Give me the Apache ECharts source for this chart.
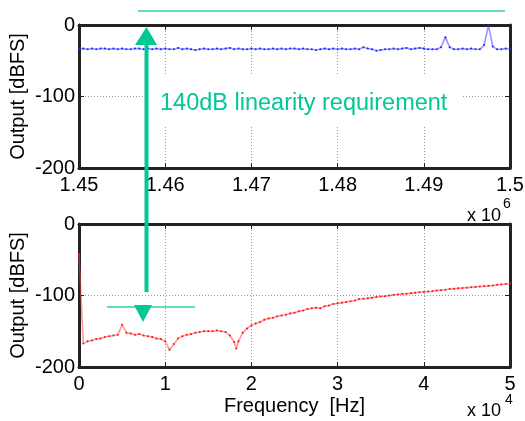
<!DOCTYPE html>
<html>
<head>
<meta charset="utf-8">
<script src="https://cdn.jsdelivr.net/npm/echarts@6/dist/echarts.min.js"></script>
<style>
  html, body { margin: 0; padding: 0; background: #fff; }
  #chart { width: 525px; height: 421px; }
</style>
</head>
<body>
<div id="chart"></div>
<script>
// High-frequency band spectrum (Hz vs dBFS), 500 Hz spacing from 1.45 MHz
const hfFreq = [
  1450000,1450500,1451000,1451500,1452000,1452500,1453000,1453500,1454000,1454500,
  1455000,1455500,1456000,1456500,1457000,1457500,1458000,1458500,1459000,1459500,
  1460000,1460500,1461000,1461500,1462000,1462500,1463000,1463500,1464000,1464500,
  1465000,1465500,1466000,1466500,1467000,1467500,1468000,1468500,1469000,1469500,
  1470000,1470500,1471000,1471500,1472000,1472500,1473000,1473500,1474000,1474500,
  1475000,1475500,1476000,1476500,1477000,1477500,1478000,1478500,1479000,1479500,
  1480000,1480500,1481000,1481500,1482000,1482500,1483000,1483500,1484000,1484500,
  1485000,1485500,1486000,1486500,1487000,1487500,1488000,1488500,1489000,1489500,
  1490000,1490500,1491000,1491500,1492000,1492500,1493000,1493500,1494000,1494500,
  1495000,1495500,1496000,1496500,1497000,1497500,1498000,1498500,1499000,1499500,
  1500000
];
const hfLevel = [
  -34,-33,-34,-33,-34,-33,-33,-34,-33,-34,
  -33,-34,-34,-33,-33,-34,-33,-34,-33,-34,
  -33,-34,-34,-32,-34,-33,-34,-35,-34,-33,
  -34,-34,-33,-34,-33,-32,-34,-33,-34,-34,
  -33,-34,-33,-34,-34,-33,-34,-33,-34,-33,
  -33,-34,-33,-34,-34,-35,-34,-33,-34,-33,
  -34,-33,-34,-34,-33,-34,-31,-33,-34,-36,
  -35,-34,-34,-33,-34,-33,-32,-34,-33,-32,
  -33,-34,-34,-34,-31,-17,-31,-34,-34,-33,
  -34,-33,-34,-34,-28,-1,-30,-34,-34,-33,
  -34
];

// Audio band spectrum (Hz vs dBFS)
const lfFreq = [
  0,500,1000,1500,2000,2500,3000,3500,4000,4500,
  5000,5500,6000,6500,7000,7500,8000,8500,9000,9500,
  10000,10500,11000,11500,12000,12500,13000,13500,14000,14500,
  15000,15500,16000,16500,17000,17500,18000,18250,18500,19000,
  19500,20000,20500,21000,21500,22000,22500,23000,23500,24000,
  24500,25000,25500,26000,26500,27000,27500,28000,28500,29000,
  29500,30000,30500,31000,31500,32000,32500,33000,33500,34000,
  34500,35000,35500,36000,36500,37000,37500,38000,38500,39000,
  39500,40000,40500,41000,41500,42000,42500,43000,43500,44000,
  44500,45000,45500,46000,46500,47000,47500,48000,48500,49000,
  49500,50000
];
const lfLevel = [
  -42,-167,-164,-163,-161,-160,-158,-157,-156,-155,
  -141,-152,-153,-155,-154,-156,-157,-158,-160,-161,
  -164,-176,-168,-160,-157,-155,-154,-152,-151,-150,
  -150,-150,-149,-150,-151,-156,-165,-174,-164,-152,
  -146,-142,-139,-137,-134,-132,-131,-129,-128,-127,
  -125,-124,-122,-121,-119,-118,-117,-118,-115,-114,
  -112,-111,-110,-109,-108,-107,-105,-104.5,-104,-103,
  -102,-101.5,-101,-100,-99,-98.5,-98,-97.5,-97,-96,
  -95.5,-95,-94.5,-94,-93,-92.5,-92,-91,-90.5,-90,
  -89.5,-89,-88.5,-88,-87.5,-87,-86.5,-86,-85,-84.5,
  -84,-83
];

const levelTicks = [-200, -100, 0];

const FONT = 'Liberation Sans, Arial, sans-serif';
const FRAME = '#222';
const TEAL = '#00c896';

const chart = echarts.init(document.getElementById('chart'), null, { renderer: 'canvas' });

function xAxisCfg(gridIndex, min, max, scale, labelSize, name) {
  return {
    type: 'value', gridIndex, min, max, interval: 10000,
    position: 'bottom',
    name: name || '',
    nameLocation: 'middle', nameGap: 29, nameMoveOverlap: false,
    nameTextStyle: { fontFamily: FONT, fontSize: 20, color: '#000' },
    axisLine: { show: true, onZero: false, lineStyle: { color: FRAME, width: 3 } },
    axisTick: { show: true, inside: true, length: 5, lineStyle: { color: FRAME, width: 1 } },
    axisLabel: {
      fontFamily: FONT, fontSize: labelSize, color: '#000', margin: 7,
      formatter: v => String(+(v / scale).toFixed(2))
    },
    splitLine: { show: true, lineStyle: { color: '#999', type: [1, 2], width: 1 } }
  };
}
function xMirror(gridIndex, min, max) {
  return {
    type: 'value', gridIndex, min, max, interval: 10000, position: 'top',
    axisLine: { show: true, onZero: false, lineStyle: { color: FRAME, width: 3 } },
    axisTick: { show: true, inside: true, length: 5, lineStyle: { color: FRAME, width: 1 } },
    axisLabel: { show: false }, splitLine: { show: false }
  };
}
function yAxisCfg(gridIndex) {
  return {
    type: 'value', gridIndex, min: -200, max: 0, interval: 100,
    name: 'Output [dBFS]', nameLocation: 'middle', nameGap: 51, nameMoveOverlap: false,
    nameTextStyle: { fontFamily: FONT, fontSize: 20, color: '#000' },
    axisLine: { show: true, onZero: false, lineStyle: { color: FRAME, width: 3 } },
    axisTick: { show: true, inside: true, length: 5, lineStyle: { color: FRAME, width: 1 } },
    axisLabel: {
      fontFamily: FONT, fontSize: 20, color: '#000', margin: 4,
      customValues: levelTicks
    },
    splitLine: { show: true, lineStyle: { color: '#999', type: [1, 2], width: 1 } }
  };
}
function yMirror(gridIndex) {
  return {
    type: 'value', gridIndex, min: -200, max: 0, interval: 100, position: 'right',
    axisLine: { show: true, onZero: false, lineStyle: { color: FRAME, width: 3 } },
    axisTick: { show: true, inside: true, length: 5, lineStyle: { color: FRAME, width: 1 } },
    axisLabel: { show: false }, splitLine: { show: false }
  };
}

const option = {
  backgroundColor: '#fff',
  animation: false,
  grid: [
    { left: 79, top: 25, width: 431, height: 143, containLabel: false, outerBoundsMode: 'none' },
    { left: 79, top: 224, width: 431, height: 143, containLabel: false, outerBoundsMode: 'none' }
  ],
  xAxis: [
    xAxisCfg(0, 1450000, 1500000, 1e6, 20),
    xAxisCfg(1, 0, 50000, 1e4, 20, 'Frequency  [Hz]'),
    xMirror(0, 1450000, 1500000),
    xMirror(1, 0, 50000)
  ],
  yAxis: [yAxisCfg(0), yAxisCfg(1), yMirror(0), yMirror(1)],
  series: [
    {
      type: 'line', xAxisIndex: 0, yAxisIndex: 0,
      data: hfFreq.map((f, i) => [f, hfLevel[i]]),
      showSymbol: true, symbol: 'circle', symbolSize: 2,
      itemStyle: { color: '#2020ff' },
      lineStyle: { color: 'rgba(70,70,255,0.55)', width: 1.6 },
      clip: true
    },
    {
      type: 'line', xAxisIndex: 1, yAxisIndex: 1,
      data: lfFreq.map((f, i) => [f, lfLevel[i]]),
      showSymbol: true, symbol: 'circle', symbolSize: 2,
      itemStyle: { color: '#ff1010' },
      lineStyle: { color: 'rgba(255,70,70,0.55)', width: 1.6 },
      clip: true
    }
  ],
  graphic: [
    // exponent notes for the frequency axes
    { type: 'text', left: 467, top: 207, style: { text: 'x 10', fontFamily: FONT, fontSize: 18, fill: '#000' } },
    { type: 'text', left: 503, top: 197, style: { text: '6', fontFamily: FONT, fontSize: 14, fill: '#000' } },
    { type: 'text', left: 467, top: 402, style: { text: 'x 10', fontFamily: FONT, fontSize: 18, fill: '#000' } },
    { type: 'text', left: 505, top: 393, style: { text: '4', fontFamily: FONT, fontSize: 14, fill: '#000' } },
    // annotation: linearity requirement arrow
    { type: 'line', z: 100, shape: { x1: 138, y1: 11, x2: 505, y2: 11 }, style: { stroke: '#33d3a3', lineWidth: 1.5 } },
    { type: 'rect', z: 100, shape: { x: 143, y: 75, width: 319, height: 50 }, style: { fill: '#fff' } },
    { type: 'text', z: 101, x: 160, y: 104, style: { text: '140dB linearity requirement', fontFamily: FONT, fontSize: 23.5, fill: TEAL, textVerticalAlign: 'middle' } },
    { type: 'line', z: 102, shape: { x1: 146.5, y1: 42, x2: 146.5, y2: 292 }, style: { stroke: TEAL, lineWidth: 4 } },
    { type: 'polygon', z: 102, shape: { points: [[146.5, 27], [135, 45], [157, 45]] }, style: { fill: TEAL } },
    { type: 'line', z: 102, shape: { x1: 107, y1: 307, x2: 195, y2: 307 }, style: { stroke: '#33d3a3', lineWidth: 1.5 } },
    { type: 'polygon', z: 102, shape: { points: [[134, 305], [152, 305], [143, 322]] }, style: { fill: TEAL } }
  ]
};

chart.setOption(option);
</script>
</body>
</html>
